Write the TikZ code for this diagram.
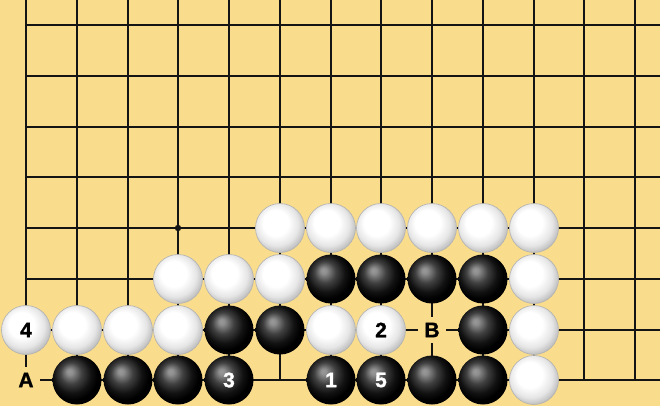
\documentclass[tikz,border=0pt]{standalone}
\usepackage{fontspec}
\setmainfont{Liberation Sans}
\newfontfamily\lblf{Liberation Sans Bold}[FakeBold=1.3]
\definecolor{board}{HTML}{F9DC8C}
\definecolor{gridc}{HTML}{141414}
\pgfdeclareradialshading{wstone}{\pgfqpoint{-6bp}{7bp}}{color(0bp)=(white); color(13bp)=(white); color(22bp)=(black!10); color(30bp)=(black!30); color(50bp)=(black!35)}
\pgfdeclareradialshading{bstone}{\pgfqpoint{-8bp}{9bp}}{color(0bp)=(black!40); color(3bp)=(black!44); color(11bp)=(black!75); color(19bp)=(black!93); color(25bp)=(black); color(50bp)=(black)}
\tikzset{
  stonebase/.style={circle, inner sep=0pt, minimum size=49pt, font=\lblf\fontsize{21}{21}\selectfont},
  wst/.style={stonebase, shade, shading=wstone, draw=black!30, line width=0.6pt, text=black},
  bst/.style={stonebase, shade, shading=bstone, text=white},
  lbl/.style={rectangle, fill=board, inner sep=0pt, minimum width=28pt, minimum height=26pt, font=\lblf\fontsize{21}{21}\selectfont, text=black},
  gridline/.style={draw=gridc, line width=1.6pt}
}
\begin{document}
\begin{tikzpicture}[x=1pt,y=-1pt]
\useasboundingbox (0,0) rectangle (660,406);
\fill[board] (0,0) rectangle (660,406);
\foreach \i in {0,...,12}{
  \foreach \j in {0,...,7}{
    \pgfmathsetmacro{\xx}{26+round(50.75*\i)}
    \pgfmathsetmacro{\yy}{25+round(50.75*\j)}
    \coordinate (p-\i-\j) at (\xx,\yy);
  }
}
\foreach \i in {0,...,12} \draw[gridline] (p-\i-0 |- 0,0) -- (p-\i-7);
\foreach \j in {0,...,7} \draw[gridline] (p-0-\j) -- (p-0-\j -| 660,0);
\fill[gridc] (p-3-4) circle[radius=3.2pt];
% labels on empty points
\node[lbl] (A) at (p-0-7) {A};
\node[lbl] (B) at (p-8-6) {B};
% row 4
\node[wst] (w54) at (p-5-4) {};
\node[wst] (w64) at (p-6-4) {};
\node[wst] (w74) at (p-7-4) {};
\node[wst] (w84) at (p-8-4) {};
\node[wst] (w94) at (p-9-4) {};
\node[wst] (w104) at (p-10-4) {};
% row 5
\node[wst] (w35) at (p-3-5) {};
\node[wst] (w45) at (p-4-5) {};
\node[wst] (w55) at (p-5-5) {};
\node[bst] (b65) at (p-6-5) {};
\node[bst] (b75) at (p-7-5) {};
\node[bst] (b85) at (p-8-5) {};
\node[bst] (b95) at (p-9-5) {};
\node[wst] (w105) at (p-10-5) {};
% row 6
\node[wst] (w06) at (p-0-6) {4};
\node[wst] (w16) at (p-1-6) {};
\node[wst] (w26) at (p-2-6) {};
\node[wst] (w36) at (p-3-6) {};
\node[bst] (b46) at (p-4-6) {};
\node[bst] (b56) at (p-5-6) {};
\node[wst] (w66) at (p-6-6) {};
\node[wst] (w76) at (p-7-6) {2};
\node[bst] (b96) at (p-9-6) {};
\node[wst] (w106) at (p-10-6) {};
% row 7
\node[bst] (b17) at (p-1-7) {};
\node[bst] (b27) at (p-2-7) {};
\node[bst] (b37) at (p-3-7) {};
\node[bst] (b47) at (p-4-7) {3};
\node[bst] (b67) at (p-6-7) {1};
\node[bst] (b77) at (p-7-7) {5};
\node[bst] (b87) at (p-8-7) {};
\node[bst] (b97) at (p-9-7) {};
\node[wst] (w107) at (p-10-7) {};
\end{tikzpicture}
\end{document}
